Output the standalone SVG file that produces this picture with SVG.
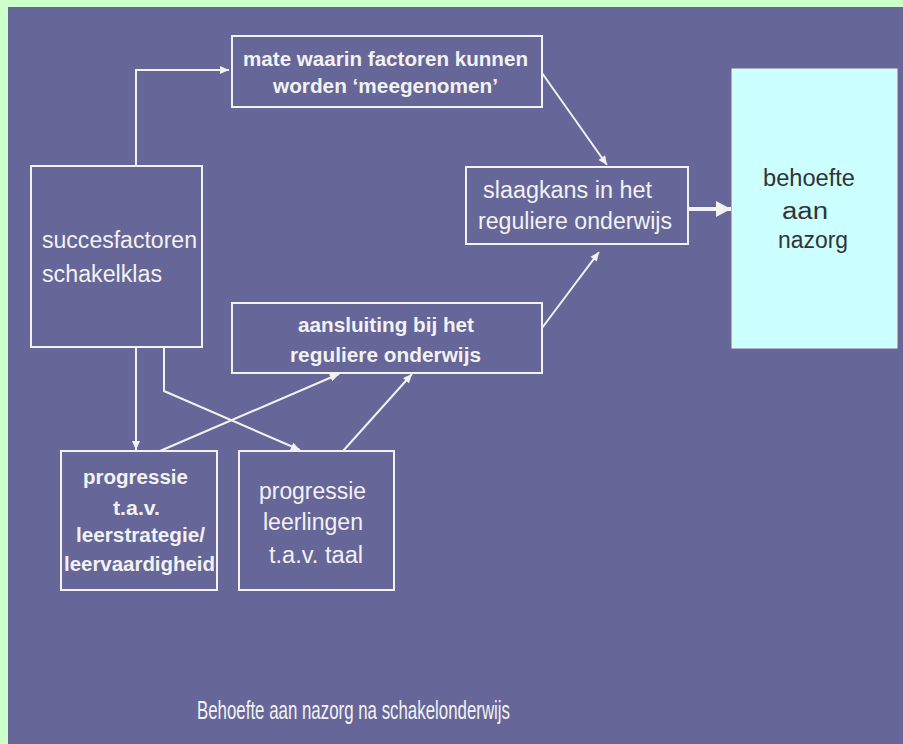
<svg xmlns="http://www.w3.org/2000/svg" width="903" height="744" viewBox="0 0 903 744">
<style>
.box{fill:none;stroke:#f2f2f2;stroke-width:2}
.t{font-family:"Liberation Sans Narrow","Liberation Sans",Arial,sans-serif;fill:#f2f2f2}
.b{font-weight:bold;font-size:20px}
.r{font-size:23px}
.con{fill:none;stroke:#f2f2f2;stroke-width:2}
</style>
<defs>
<marker id="ah" markerUnits="userSpaceOnUse" markerWidth="12" markerHeight="12" viewBox="0 0 12 12" refX="10" refY="6" orient="auto">
<path d="M1,2 L10,6 L1,10 Z" fill="#f2f2f2"/>
</marker>
<marker id="ahb" markerUnits="userSpaceOnUse" markerWidth="18" markerHeight="18" viewBox="0 0 18 18" refX="16" refY="9" orient="auto">
<path d="M1,1 L16,9 L1,17 Z" fill="#f2f2f2"/>
</marker>
</defs>
<rect x="0" y="0" width="903" height="744" fill="#ccffcc"/>
<rect x="8" y="7" width="895" height="737" fill="#666699"/>

<g id="connectors">
<polyline class="con" points="136,166 136,70 229,70" marker-end="url(#ah)"/>
<line class="con" x1="542" y1="73" x2="607" y2="165" marker-end="url(#ah)"/>
<line class="con" x1="542" y1="328" x2="599" y2="252" marker-end="url(#ah)"/>
<line x1="688" y1="209" x2="731" y2="209" stroke="#f2f2f2" stroke-width="4" marker-end="url(#ahb)"/>
<line class="con" x1="136" y1="347" x2="136" y2="450" marker-end="url(#ah)"/>
<polyline class="con" points="164,347 164,391 300,450" marker-end="url(#ah)"/>
<line class="con" x1="160" y1="451" x2="339" y2="374" marker-end="url(#ah)"/>
<line class="con" x1="343" y1="451" x2="412" y2="374" marker-end="url(#ah)"/>
</g>

<g id="mate">
<rect class="box" x="232" y="36" width="310" height="71"/>
<text class="t b" x="243" y="66" textLength="285" lengthAdjust="spacingAndGlyphs">mate waarin factoren kunnen</text>
<text class="t b" x="273" y="93" textLength="225" lengthAdjust="spacingAndGlyphs">worden ‘meegenomen’</text>
</g>

<g id="succes">
<rect class="box" x="31" y="166" width="171" height="181"/>
<text class="t r" x="42" y="248" textLength="155" lengthAdjust="spacingAndGlyphs">succesfactoren</text>
<text class="t r" x="42" y="282" textLength="120" lengthAdjust="spacingAndGlyphs">schakelklas</text>
</g>

<g id="slaagkans">
<rect class="box" x="466" y="167" width="222" height="77"/>
<text class="t r" x="483" y="198" textLength="169" lengthAdjust="spacingAndGlyphs">slaagkans in het</text>
<text class="t r" x="478" y="229" textLength="194" lengthAdjust="spacingAndGlyphs">reguliere onderwijs</text>
</g>

<g id="behoefte">
<rect x="732" y="69" width="165" height="279" fill="#ccffff" stroke="#f2f2f2" stroke-width="1"/>
<text class="r" font-family="Liberation Sans Narrow, Liberation Sans, Arial, sans-serif" fill="#333333" x="763" y="186" textLength="92" lengthAdjust="spacingAndGlyphs">behoefte</text>
<text class="r" font-family="Liberation Sans Narrow, Liberation Sans, Arial, sans-serif" fill="#333333" x="782" y="219" textLength="46" lengthAdjust="spacingAndGlyphs">aan</text>
<text class="r" font-family="Liberation Sans Narrow, Liberation Sans, Arial, sans-serif" fill="#333333" x="778" y="248" textLength="70" lengthAdjust="spacingAndGlyphs">nazorg</text>
</g>

<g id="aansluiting">
<rect class="box" x="232" y="303" width="310" height="70"/>
<text class="t b" x="298" y="332" textLength="176" lengthAdjust="spacingAndGlyphs">aansluiting bij het</text>
<text class="t b" x="290" y="362" textLength="191" lengthAdjust="spacingAndGlyphs">reguliere onderwijs</text>
</g>

<g id="progressie-leer">
<rect class="box" x="61" y="451" width="156" height="139"/>
<text class="t b" x="83" y="484" textLength="105" lengthAdjust="spacingAndGlyphs">progressie</text>
<text class="t b" x="113" y="515" textLength="47" lengthAdjust="spacingAndGlyphs">t.a.v.</text>
<text class="t b" x="76" y="542" textLength="129" lengthAdjust="spacingAndGlyphs">leerstrategie/</text>
<text class="t b" x="64" y="571" textLength="151" lengthAdjust="spacingAndGlyphs">leervaardigheid</text>
</g>

<g id="progressie-taal">
<rect class="box" x="239" y="451" width="155" height="139"/>
<text class="t r" x="259" y="499" textLength="107" lengthAdjust="spacingAndGlyphs">progressie</text>
<text class="t r" x="263" y="530" textLength="100" lengthAdjust="spacingAndGlyphs">leerlingen</text>
<text class="t r" x="269" y="563" textLength="94" lengthAdjust="spacingAndGlyphs">t.a.v. taal</text>
</g>

<g id="caption">
<text class="t" font-size="25" x="197" y="719" textLength="313" lengthAdjust="spacingAndGlyphs">Behoefte aan nazorg na schakelonderwijs</text>
</g>
</svg>
